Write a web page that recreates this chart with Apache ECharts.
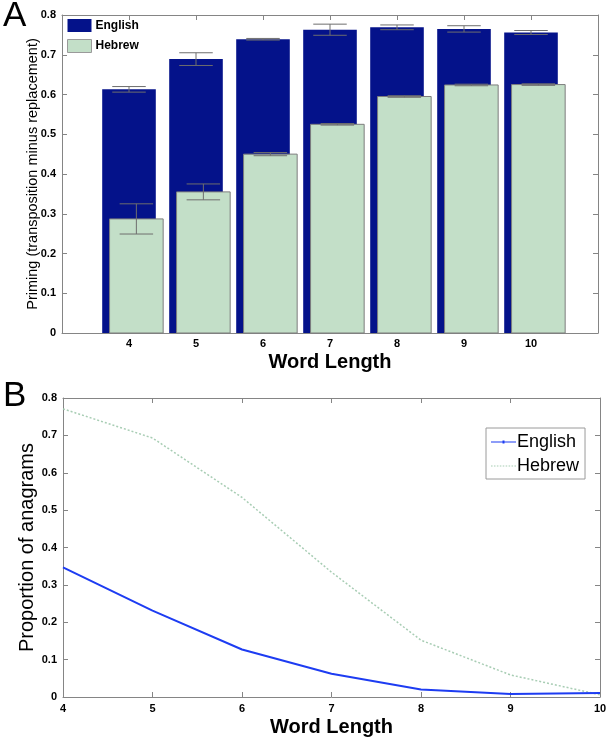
<!DOCTYPE html>
<html>
<head>
<meta charset="utf-8">
<script src="https://cdn.jsdelivr.net/npm/echarts@6/dist/echarts.min.js"></script>
<style>
html,body{margin:0;padding:0;background:#fff;}
#chart{width:610px;height:740px;}
</style>
</head>
<body>
<div id="chart"></div>
<script>
// ---- Data ----
const wordLengths = [4, 5, 6, 7, 8, 9, 10];
const englishPriming = [0.613, 0.689, 0.739, 0.763, 0.769, 0.765, 0.756];
const englishPrimingErr = [0.007, 0.016, 0.002, 0.014, 0.006, 0.008, 0.005];
const hebrewPriming = [0.287, 0.355, 0.450, 0.525, 0.595, 0.624, 0.625];
const hebrewPrimingErr = [0.038, 0.020, 0.004, 0.002, 0.002, 0.002, 0.002];
const englishAnagrams = [0.347, 0.231, 0.127, 0.062, 0.020, 0.008, 0.011];
const hebrewAnagrams = [0.771, 0.693, 0.534, 0.334, 0.152, 0.059, 0.006];
const primingTicks = [0, 0.1, 0.2, 0.3, 0.4, 0.5, 0.6, 0.7, 0.8];
const anagramTicks = [0, 0.1, 0.2, 0.3, 0.4, 0.5, 0.6, 0.7, 0.8];

// ---- Style ----
const FONT = '"Liberation Sans", Arial, Helvetica, sans-serif';
const AXIS_COLOR = '#858585';
const NAVY = '#04128a';
const PALE = '#c3dfc8';
const BLUE = '#1d3cf2';
const PALE_LINE = '#a8cdb4';
const BAR_HALF = 0.4;
const HEB_SHIFT = 0.11;
const CAP_HALF = 0.25;

// legend line icons (thin filled paths)
const solidIcon = 'path://M0,0.9h25v1.2h-25z M11.5,0h2v3h-2z';
let dotted = '';
for (let x = 0; x < 25; x += 3) dotted += 'M' + x + ',0.9h1.6v1.2h-1.6z ';
const dottedIcon = 'path://' + dotted + 'M0,0h0.01v3h-0.01z M24.99,0h0.01v3h-0.01z';

const chart = echarts.init(document.getElementById('chart'), null, {renderer: 'canvas'});

function barRenderer(shift, fill, stroke) {
  return function (params, api) {
    const x = api.value(0), y = api.value(1);
    const p0 = api.coord([x + shift - BAR_HALF, y]);
    const p1 = api.coord([x + shift + BAR_HALF, 0]);
    return {
      type: 'rect',
      shape: {x: p0[0], y: p0[1], width: p1[0] - p0[0], height: p1[1] - p0[1]},
      style: {fill: fill, stroke: stroke, lineWidth: stroke ? 1 : 0}
    };
  };
}
function errRenderer(shift, color) {
  return function (params, api) {
    const x = api.value(0) + shift, v = api.value(1), e = api.value(2);
    const top = api.coord([x, v + e]);
    const bot = api.coord([x, v - e]);
    const l1 = api.coord([x - CAP_HALF, v + e]);
    const r1 = api.coord([x + CAP_HALF, v + e]);
    const l2 = api.coord([x - CAP_HALF, v - e]);
    const r2 = api.coord([x + CAP_HALF, v - e]);
    const st = {stroke: color, lineWidth: 1, fill: null};
    return {
      type: 'group',
      children: [
        {type: 'line', shape: {x1: top[0], y1: top[1], x2: bot[0], y2: bot[1]}, style: st},
        {type: 'line', shape: {x1: l1[0], y1: l1[1], x2: r1[0], y2: r1[1]}, style: st},
        {type: 'line', shape: {x1: l2[0], y1: l2[1], x2: r2[0], y2: r2[1]}, style: st}
      ]
    };
  };
}

const tickLabel = {color: '#000', fontWeight: 'bold', fontSize: 11, fontFamily: FONT};
const axisLine = {show: true, onZero: false, lineStyle: {color: AXIS_COLOR, width: 1}};
const axisTickIn = {show: true, inside: true, length: 5, lineStyle: {color: AXIS_COLOR}};

const option = {
  animation: false,
  backgroundColor: '#fff',
  title: [
    {text: 'A', left: -2, top: -6, textStyle: {fontFamily: FONT, fontWeight: 'normal', fontSize: 35, color: '#000'}},
    {text: 'B', left: -2, top: 374, textStyle: {fontFamily: FONT, fontWeight: 'normal', fontSize: 35, color: '#000'}}
  ],
  grid: [
    {left: 62, right: 12, top: 15, bottom: 407},
    {left: 63, right: 10, top: 398, bottom: 43}
  ],
  legend: [
    {
      left: 62, top: 15, orient: 'vertical', padding: [4, 4, 4, 5], itemGap: 7,
      itemWidth: 24, itemHeight: 13, selectedMode: false,
      textStyle: {fontFamily: FONT, fontWeight: 'bold', fontSize: 12, color: '#000', padding: [0, 0, 0, -1]},
      data: [
        {name: 'English', icon: 'rect', itemStyle: {color: NAVY, borderWidth: 0}},
        {name: 'Hebrew', icon: 'rect', itemStyle: {color: PALE, borderColor: '#9a9a9a', borderWidth: 1}}
      ]
    },
    {
      left: 486, top: 428, orient: 'vertical', padding: [5, 6, 4, 5], itemGap: 6,
      itemWidth: 25, itemHeight: 14, selectedMode: false, symbolKeepAspect: true,
      backgroundColor: '#fff', borderColor: '#9a9a9a', borderWidth: 1,
      textStyle: {fontFamily: FONT, fontSize: 18, color: '#000', padding: [0, 0, 0, -4]},
      formatter: function (n) { return n.split(' ')[0]; },
      data: [
        {name: 'English anagrams', icon: solidIcon, itemStyle: {color: BLUE, borderWidth: 0}},
        {name: 'Hebrew anagrams', icon: dottedIcon, itemStyle: {color: PALE_LINE, borderWidth: 0}}
      ]
    }
  ],
  xAxis: [
    {
      gridIndex: 0, type: 'value', min: 3, max: 11, interval: 1, position: 'bottom',
      name: 'Word Length', nameLocation: 'middle', nameGap: 19, nameMoveOverlap: false,
      nameTextStyle: {fontFamily: FONT, fontWeight: 'bold', fontSize: 20, color: '#000', verticalAlign: 'top'},
      axisLine: axisLine, axisTick: axisTickIn, splitLine: {show: false},
      axisLabel: Object.assign({}, tickLabel, {margin: 5, formatter: function (v) { return wordLengths.indexOf(v) >= 0 ? String(v) : ''; }})
    },
    {
      gridIndex: 0, type: 'value', min: 3, max: 11, interval: 1, position: 'top',
      axisLine: axisLine, axisTick: axisTickIn, axisLabel: {show: false}, splitLine: {show: false}
    },
    {
      gridIndex: 1, type: 'value', min: 4, max: 10, interval: 1, position: 'bottom',
      name: 'Word Length', nameLocation: 'middle', nameGap: 20, nameMoveOverlap: false,
      nameTextStyle: {fontFamily: FONT, fontWeight: 'bold', fontSize: 20, color: '#000', verticalAlign: 'top'},
      axisLine: axisLine, axisTick: axisTickIn, splitLine: {show: false},
      axisLabel: Object.assign({}, tickLabel, {margin: 6})
    },
    {
      gridIndex: 1, type: 'value', min: 4, max: 10, interval: 1, position: 'top',
      axisLine: axisLine, axisTick: axisTickIn, axisLabel: {show: false}, splitLine: {show: false}
    }
  ],
  yAxis: [
    {
      gridIndex: 0, type: 'value', min: primingTicks[0], max: primingTicks[primingTicks.length - 1], interval: 0.1,
      name: 'Priming (transposition minus replacement)', nameLocation: 'middle', nameGap: 22, nameMoveOverlap: false,
      nameTextStyle: {fontFamily: FONT, fontSize: 14.5, color: '#000', verticalAlign: 'bottom'},
      axisLine: axisLine, axisTick: axisTickIn, splitLine: {show: false},
      axisLabel: Object.assign({}, tickLabel, {margin: 6})
    },
    {
      gridIndex: 0, type: 'value', min: 0, max: 0.8, interval: 0.1, position: 'right',
      axisLine: axisLine, axisTick: axisTickIn, axisLabel: {show: false}, splitLine: {show: false}
    },
    {
      gridIndex: 1, type: 'value', min: anagramTicks[0], max: anagramTicks[anagramTicks.length - 1], interval: 0.1,
      name: 'Proportion of anagrams', nameLocation: 'middle', nameGap: 26, nameMoveOverlap: false,
      nameTextStyle: {fontFamily: FONT, fontSize: 20, color: '#000', verticalAlign: 'bottom'},
      axisLine: axisLine, axisTick: axisTickIn, splitLine: {show: false},
      axisLabel: Object.assign({}, tickLabel, {margin: 6})
    },
    {
      gridIndex: 1, type: 'value', min: 0, max: 0.8, interval: 0.1, position: 'right',
      axisLine: axisLine, axisTick: axisTickIn, axisLabel: {show: false}, splitLine: {show: false}
    }
  ],
  series: [
    {
      name: 'English', type: 'custom', xAxisIndex: 0, yAxisIndex: 0,
      itemStyle: {color: NAVY},
      renderItem: barRenderer(0, NAVY, null),
      data: wordLengths.map((w, i) => [w, englishPriming[i]])
    },
    {
      name: 'English err', type: 'custom', xAxisIndex: 0, yAxisIndex: 0,
      renderItem: errRenderer(0, '#6e6e6e'),
      data: wordLengths.map((w, i) => [w, englishPriming[i], englishPrimingErr[i]])
    },
    {
      name: 'Hebrew', type: 'custom', xAxisIndex: 0, yAxisIndex: 0,
      itemStyle: {color: PALE},
      renderItem: barRenderer(HEB_SHIFT, PALE, '#7d7d7d'),
      data: wordLengths.map((w, i) => [w, hebrewPriming[i]])
    },
    {
      name: 'Hebrew err', type: 'custom', xAxisIndex: 0, yAxisIndex: 0,
      renderItem: errRenderer(HEB_SHIFT, '#6e6e6e'),
      data: wordLengths.map((w, i) => [w, hebrewPriming[i], hebrewPrimingErr[i]])
    },
    {
      name: 'Hebrew anagrams', type: 'line', xAxisIndex: 2, yAxisIndex: 2,
      symbol: 'none', color: PALE_LINE,
      lineStyle: {color: PALE_LINE, width: 1.5, type: [2, 2]},
      data: wordLengths.map((w, i) => [w, hebrewAnagrams[i]])
    },
    {
      name: 'English anagrams', type: 'line', xAxisIndex: 2, yAxisIndex: 2,
      symbol: 'none', color: BLUE,
      lineStyle: {color: BLUE, width: 2},
      data: wordLengths.map((w, i) => [w, englishAnagrams[i]])
    }
  ]
};
chart.setOption(option);
</script>
</body>
</html>
